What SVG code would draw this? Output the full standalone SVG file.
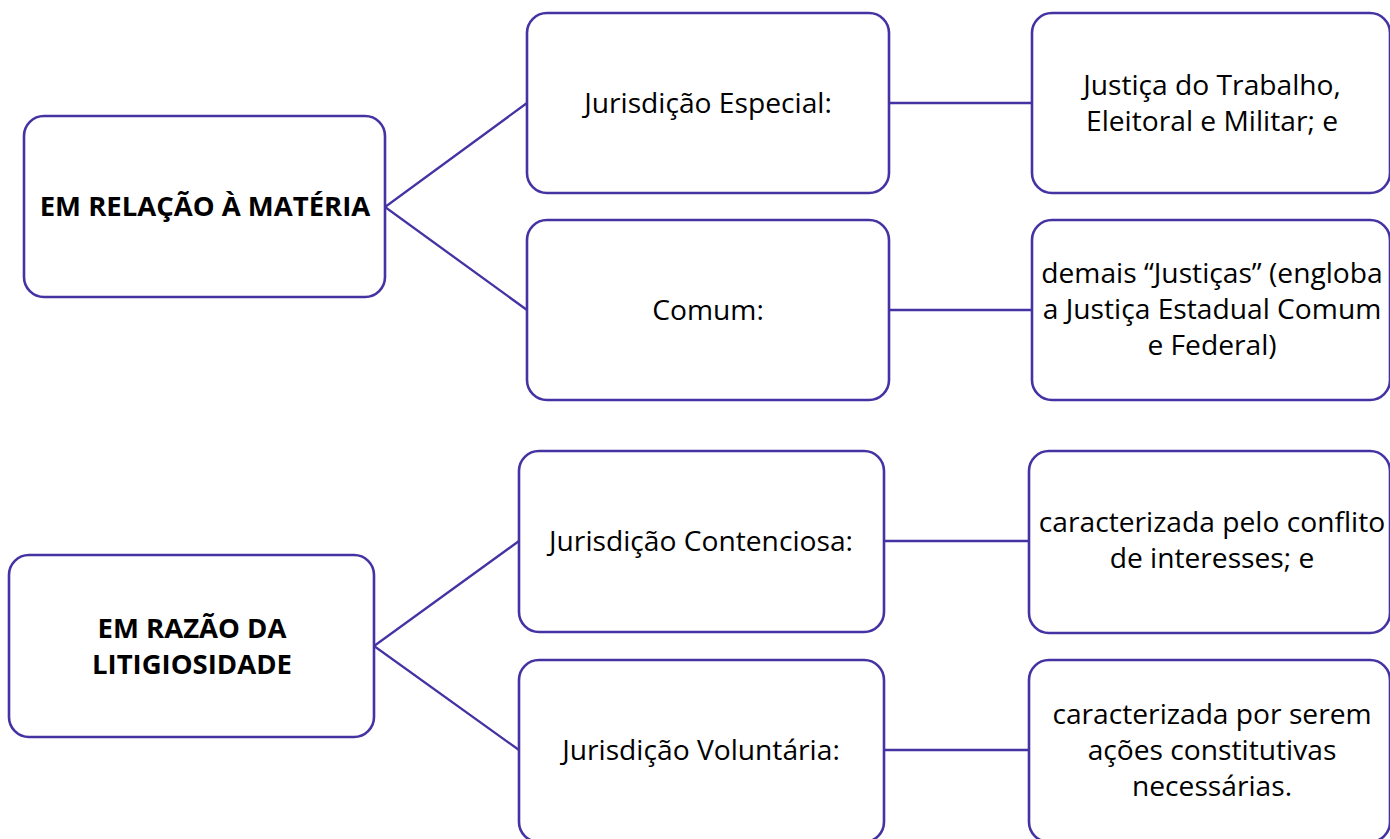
<svg xmlns="http://www.w3.org/2000/svg" width="1390" height="839" viewBox="0 0 1390 839">
<style>
.box{fill:#ffffff;stroke:#4433a3;stroke-width:2.6}
.con{stroke:#4433a3;stroke-width:2.3;fill:none}
text{font-family:"Open Sans","Noto Sans",sans-serif;fill:#000;text-anchor:middle}
.t{font-size:28.2px}
.b{font-size:27.5px;font-weight:bold}
</style>
<rect width="1390" height="839" fill="#ffffff"/>
<g id="connectors">
<polyline class="con" points="527,103 385,207 527,310"/>
<line class="con" x1="889" y1="103" x2="1032" y2="103"/>
<line class="con" x1="889" y1="310" x2="1032" y2="310"/>
<polyline class="con" points="519,541 374,646 519,750"/>
<line class="con" x1="884" y1="541" x2="1029" y2="541"/>
<line class="con" x1="884" y1="750" x2="1029" y2="750"/>
</g>
<g id="materia">
<rect class="box" x="24" y="116" width="361" height="181" rx="20"/>
<text class="b" x="205" y="216">EM RELAÇÃO À MATÉRIA</text>
</g>
<g id="especial">
<rect class="box" x="527" y="13" width="362" height="180" rx="20"/>
<text class="t" x="708" y="113">Jurisdição Especial:</text>
</g>
<g id="trabalho">
<rect class="box" x="1032" y="13" width="358" height="180" rx="20"/>
<text class="t" x="1212" y="95">Justiça do Trabalho,</text>
<text class="t" x="1212" y="131">Eleitoral e Militar; e</text>
</g>
<g id="comum">
<rect class="box" x="527" y="220" width="362" height="180" rx="20"/>
<text class="t" x="708" y="320">Comum:</text>
</g>
<g id="demais">
<rect class="box" x="1032" y="220" width="358" height="180" rx="20"/>
<text class="t" x="1212" y="283">demais “Justiças” (engloba</text>
<text class="t" x="1212" y="319">a Justiça Estadual Comum</text>
<text class="t" x="1212" y="355">e Federal)</text>
</g>
<g id="litigiosidade">
<rect class="box" x="9" y="555" width="365" height="182" rx="20"/>
<text class="b" x="192" y="638">EM RAZÃO DA</text>
<text class="b" x="192" y="674">LITIGIOSIDADE</text>
</g>
<g id="contenciosa">
<rect class="box" x="519" y="451" width="365" height="181" rx="20"/>
<text class="t" x="701" y="551">Jurisdição Contenciosa:</text>
</g>
<g id="conflito">
<rect class="box" x="1029" y="451" width="361" height="182" rx="20"/>
<text class="t" x="1212" y="532">caracterizada pelo conflito</text>
<text class="t" x="1212" y="568">de interesses; e</text>
</g>
<g id="voluntaria">
<rect class="box" x="519" y="660" width="365" height="182" rx="20"/>
<text class="t" x="701" y="760">Jurisdição Voluntária:</text>
</g>
<g id="constitutivas">
<rect class="box" x="1029" y="660" width="361" height="182" rx="20"/>
<text class="t" x="1212" y="724">caracterizada por serem</text>
<text class="t" x="1212" y="760">ações constitutivas</text>
<text class="t" x="1212" y="796">necessárias.</text>
</g>
</svg>
